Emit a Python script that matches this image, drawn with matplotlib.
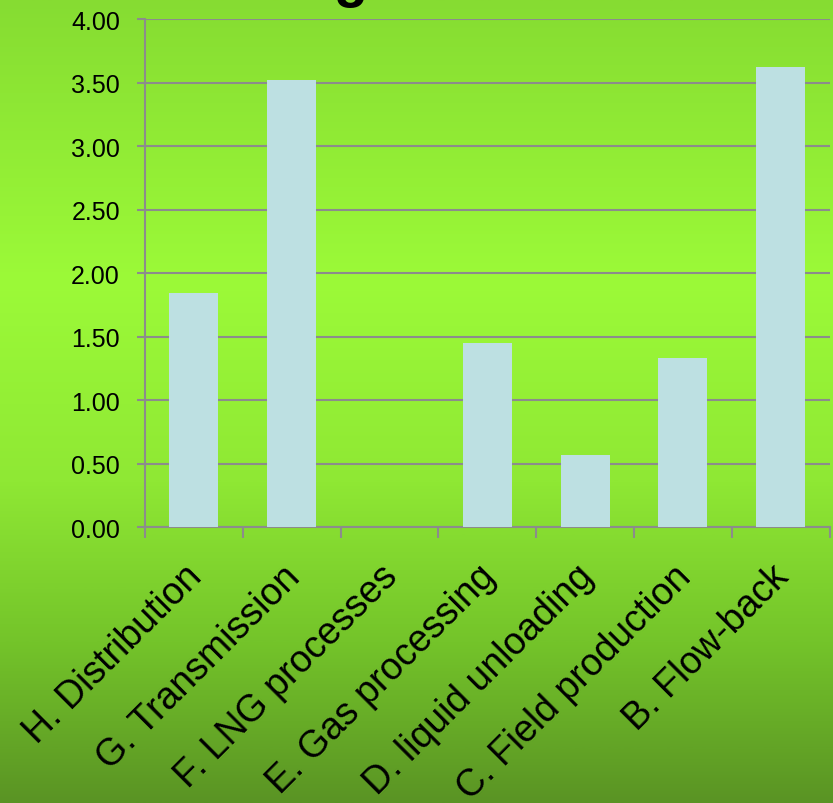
import matplotlib
matplotlib.use("Agg")
import matplotlib.pyplot as plt
import matplotlib.ticker as mticker
import matplotlib.transforms as mtrans
import numpy as np
from matplotlib.colors import LinearSegmentedColormap

plt.rcParams["font.family"] = ["Liberation Sans", "DejaVu Sans"]

# ---------------------------------------------------------------------------
# Data
# ---------------------------------------------------------------------------
categories = [
    "H. Distribution",
    "G. Transmission",
    "F. LNG processes",
    "E. Gas processing",
    "D. liquid unloading",
    "C. Field production",
    "B. Flow-back",
]
values = [1.84, 3.52, 0.0, 1.45, 0.57, 1.33, 3.62]
y_ticks = [0.0, 0.5, 1.0, 1.5, 2.0, 2.5, 3.0, 3.5, 4.0]

# ---------------------------------------------------------------------------
# Style
# ---------------------------------------------------------------------------
BAR_COLOR = "#bde0e2"
GRID_COLOR = "#8c8c8c"
BG_STOPS = [
    (0.00, "#86dc32"),
    (0.35, "#9cfa38"),
    (0.60, "#8fe834"),
    (0.80, "#74c42a"),
    (1.00, "#5a9424"),
]

fig = plt.figure(figsize=(8.33, 8.04), dpi=100)

# gradient background covering whole figure
bg = fig.add_axes([0, 0, 1, 1], zorder=-10)
cmap = LinearSegmentedColormap.from_list("bg", BG_STOPS)
grad = np.linspace(0, 1, 512).reshape(-1, 1)
bg.imshow(grad, aspect="auto", cmap=cmap, extent=[0, 1, 1, 0])
bg.set_axis_off()

ax = fig.add_axes([0.174, 0.343, 0.822, 0.632])
ax.patch.set_alpha(0)

x = np.arange(len(categories))
ax.bar(x, values, width=0.5, color=BAR_COLOR, zorder=3)

ax.set_xlim(-0.5, len(categories) - 0.5)
ax.set_ylim(0, 4.0)
ax.set_yticks(y_ticks)
ax.yaxis.set_major_formatter(mticker.FuncFormatter(lambda v, _: f"{v:.2f}"))
ax.yaxis.grid(True, color=GRID_COLOR, linewidth=1.5, zorder=1)
ax.set_axisbelow(True)

for side in ["top", "right"]:
    ax.spines[side].set_visible(False)
for side in ["left", "bottom"]:
    ax.spines[side].set_color(GRID_COLOR)
    ax.spines[side].set_linewidth(1.5)

ax.tick_params(axis="y", length=6, width=1.5, color=GRID_COLOR,
               labelsize=18, pad=12)

# category boundary ticks (minor), labels at centres (major, no tick)
ax.set_xticks(x)
ax.set_xticks(np.arange(len(categories) + 1) - 0.5, minor=True)
ax.tick_params(axis="x", which="minor", length=8, width=1.5,
               color=GRID_COLOR, direction="out")
ax.tick_params(axis="x", which="major", length=0)
ax.set_xticklabels(categories, rotation=45, ha="right", va="top",
                   rotation_mode="anchor", fontsize=27)
offset = mtrans.ScaledTranslation(-10 / 100, -26 / 100, fig.dpi_scale_trans)
for lbl in ax.get_xticklabels():
    lbl.set_transform(lbl.get_transform() + offset)

# title, mostly above the visible area
fig.text(0.421, 1 + 4 / 804, "g", ha="center", va="baseline",
         fontsize=40, fontweight="bold", color="black")

fig.savefig("out.png", dpi=100)
